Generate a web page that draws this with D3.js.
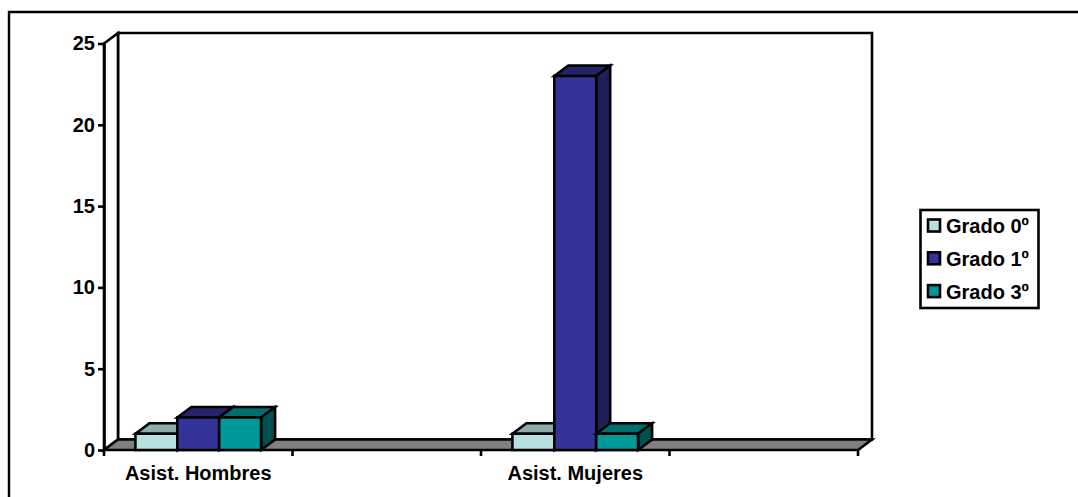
<!DOCTYPE html>
<html>
<head>
<meta charset="utf-8">
<script src="https://cdn.jsdelivr.net/npm/d3@7"></script>
<style>
  html, body { margin: 0; padding: 0; background: #fff; }
  svg { display: block; }
  text { font-family: "Liberation Sans", Arial, sans-serif; font-weight: bold; fill: #000; }
</style>
</head>
<body>
<script>
// data
const categories = ['Asist. Hombres', 'gap1', 'Asist. Mujeres', 'gap2'];
const categoryLabels = ['Asist. Hombres', '', 'Asist. Mujeres', ''];
const seriesNames = ['Grado 0º', 'Grado 1º', 'Grado 3º'];
const grado0 = [1, null, 1, null];
const grado1 = [2, null, 23, null];
const grado3 = [2, null, 1, null];
const seriesValues = [grado0, grado1, grado3];
const yTicks = [0, 5, 10, 15, 20, 25];

const frontColors = ['#b8e0e3', '#333399', '#009999'];
const topColors = ['#8fabae', '#24246b', '#006e6e'];
const sideColors = ['#7f9fa1', '#1e1e5a', '#005050'];

const w = 1078, h = 497;
const dx = 14, dy = -10.5; // 3d depth offset
const sw = 2.6;

const svg = d3.select('body').append('svg').attr('width', w).attr('height', h);

// outer frame, only top and left fall inside the picture
svg.append('path')
  .attr('d', `M9,${h}V12H${w}`)
  .attr('fill', 'none').attr('stroke', '#000').attr('stroke-width', 2.4);

const x0 = d3.scaleBand().domain(categories).range([104, 858]);
const x1 = d3.scaleBand().domain(d3.range(seriesNames.length))
  .range([0, x0.bandwidth()]).paddingInner(0).paddingOuter(0.75);
const y = d3.scaleLinear().domain([0, 25]).range([450, 43.5]);

function poly(sel, pts, fill) {
  return sel.append('polygon')
    .attr('points', pts.map(p => p.join(',')).join(' '))
    .attr('fill', fill)
    .attr('stroke', '#000')
    .attr('stroke-width', sw)
    .attr('stroke-linejoin', 'miter');
}

const xl = 104, xr = 858, y0 = y(0), yt = y(25);

// walls and floor
const walls = svg.append('g');
poly(walls, [[xl + dx, yt + dy], [xr + dx, yt + dy], [xr + dx, y0 + dy], [xl + dx, y0 + dy]], '#fff');
poly(walls, [[xl, yt], [xl + dx, yt + dy], [xl + dx, y0 + dy], [xl, y0]], '#fff');
poly(walls, [[xl, y0], [xl + dx, y0 + dy], [xr + dx, y0 + dy], [xr, y0]], '#808080');

// y axis
const yAxis = svg.append('g')
  .attr('transform', `translate(${xl},0)`)
  .call(d3.axisLeft(y).tickValues(yTicks).tickSize(6).tickPadding(3).tickSizeOuter(0));
yAxis.attr('font-family', null).attr('font-size', null);
yAxis.select('.domain').attr('stroke', '#000').attr('stroke-width', sw);
yAxis.selectAll('line').attr('stroke', '#000').attr('stroke-width', sw);
yAxis.selectAll('text').style('font-size', '20px');

// x axis, one tick on each band edge
const bandEdges = categories.map(c => x0(c)).concat(xr);
svg.append('g').selectAll('line').data(bandEdges).enter().append('line')
  .attr('x1', d => d).attr('x2', d => d)
  .attr('y1', y0).attr('y2', y0 + 6)
  .attr('stroke', '#000').attr('stroke-width', sw);

svg.append('g').selectAll('text').data(categories).enter().append('text')
  .attr('x', d => x0(d) + x0.bandwidth() / 2)
  .attr('y', 479.5)
  .attr('text-anchor', 'middle')
  .style('font-size', '20px')
  .text((d, i) => categoryLabels[i]);

// bars, painted left to right so the next bar covers the side of the previous one
const bars = svg.append('g');
categories.forEach((c, ci) => {
  seriesValues.forEach((vals, si) => {
    const v = vals[ci];
    if (v == null) return;
    const l = x0(c) + x1(si), r = l + x1.bandwidth(), t = y(v), b = y(0);
    poly(bars, [[l, t], [l + dx, t + dy], [r + dx, t + dy], [r, t]], topColors[si]);
    poly(bars, [[r, t], [r + dx, t + dy], [r + dx, b + dy], [r, b]], sideColors[si]);
    poly(bars, [[l, t], [r, t], [r, b], [l, b]], frontColors[si]);
  });
});

// legend
const legend = svg.append('g');
legend.append('rect')
  .attr('x', 920.5).attr('y', 210)
  .attr('width', 118).attr('height', 98)
  .attr('fill', '#fff').attr('stroke', '#000').attr('stroke-width', sw);
const item = legend.selectAll('g').data(seriesNames).enter().append('g')
  .attr('transform', (d, i) => `translate(928,${219.5 + i * 32.8})`);
item.append('rect')
  .attr('width', 12).attr('height', 12)
  .attr('fill', (d, i) => frontColors[i])
  .attr('stroke', '#000').attr('stroke-width', sw);
item.append('text')
  .attr('x', 18).attr('y', 13.5)
  .style('font-size', '20px')
  .text(d => d);
</script>
</body>
</html>
